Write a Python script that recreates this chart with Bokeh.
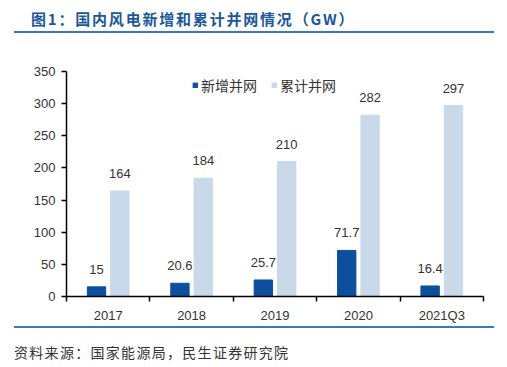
from bokeh.plotting import figure
from bokeh.layouts import column
from bokeh.models import Range1d, FixedTicker, Legend, LegendItem, ColumnDataSource, Div
from bokeh.core.properties import value
from bokeh.embed import file_html
from bokeh.resources import INLINE

categories = ["2017", "2018", "2019", "2020", "2021Q3"]
new_grid = [15, 20.6, 25.7, 71.7, 16.4]
cum_grid = [164, 184, 210, 282, 297]
y_ticks = [0, 50, 100, 150, 200, 250, 300, 350]
title_text = "图1：国内风电新增和累计并网情况（GW）"
source_text = "资料来源：国家能源局，民生证券研究院"
series_names = ["新增并网", "累计并网"]

DARK = "#0C4F9C"
LIGHT = "#C9D9E9"
RULE = "#3A78BC"
NUM_FONT = "Liberation Sans"
CJK_FONT = "Noto Sans CJK SC"

W = 507
HEAD_H = 40
FIG_H = 285
FOOT_H = 40

header = Div(width=W, height=HEAD_H, margin=0, text=(
    f'<div style="position:relative;width:{W}px;height:{HEAD_H}px;margin:0;padding:0;">'
    f'<div style="position:absolute;left:31px;top:8px;white-space:nowrap;font-family:\'{CJK_FONT}\';'
    f'font-size:15px;letter-spacing:1.8px;font-weight:bold;color:#1C5797;line-height:22px;">{title_text}</div>'
    f'<div style="position:absolute;left:14px;top:31px;width:480px;height:2px;background:{RULE};"></div>'
    '</div>'))

p = figure(width=W, height=FIG_H, output_backend="svg", toolbar_location=None,
           x_range=Range1d(0, len(categories)), y_range=Range1d(0, 350),
           min_border_left=66, min_border_right=24, min_border_top=31, min_border_bottom=25)
p.outline_line_color = None
p.xgrid.visible = False
p.ygrid.visible = False
p.background_fill_color = "white"
p.border_fill_color = "white"

centers = [i + 0.5 for i in range(len(categories))]
off = 0.14
bw = 0.22
src = ColumnDataSource(dict(
    x1=[c - off for c in centers], x2=[c + off for c in centers],
    new=new_grid, cum=cum_grid,
    new_lbl=[str(v) for v in new_grid], cum_lbl=[str(v) for v in cum_grid],
))
r1 = p.vbar(x="x1", top="new", width=bw, color=DARK, source=src)
r2 = p.vbar(x="x2", top="cum", width=bw, color=LIGHT, source=src)
for xk, yk, tk in (("x1", "new", "new_lbl"), ("x2", "cum", "cum_lbl")):
    p.text(x=xk, y=yk, text=tk, source=src, text_align="center", text_baseline="bottom",
           y_offset=-13, text_font=value(NUM_FONT), text_font_size="13px", text_color="#333333")

xa = p.xaxis[0]
xa.ticker = FixedTicker(ticks=centers, minor_ticks=list(range(len(categories) + 1)))
xa.major_label_overrides = {c: lab for c, lab in zip(centers, categories)}
xa.major_tick_in = 0
xa.major_tick_out = 0
xa.minor_tick_in = 0
xa.minor_tick_out = 5
xa.minor_tick_line_color = "black"
xa.minor_tick_line_width = 1.5
xa.axis_line_color = "black"
xa.axis_line_width = 1.5
xa.major_label_standoff = 6
xa.major_label_text_font = NUM_FONT
xa.major_label_text_font_size = "13px"
xa.major_label_text_color = "#333333"

ya = p.yaxis[0]
ya.ticker = FixedTicker(ticks=y_ticks, minor_ticks=[])
ya.major_tick_in = 0
ya.major_tick_out = 5
ya.major_tick_line_color = "black"
ya.major_tick_line_width = 1.5
ya.axis_line_color = "black"
ya.axis_line_width = 1.5
ya.major_label_standoff = 6
ya.major_label_text_font = NUM_FONT
ya.major_label_text_font_size = "13px"
ya.major_label_text_color = "#333333"

legend = Legend(items=[LegendItem(label=series_names[0], renderers=[r1]),
                       LegendItem(label=series_names[1], renderers=[r2])],
                orientation="horizontal", location=(126, 201),
                padding=0, margin=0, spacing=14, glyph_width=6, glyph_height=6,
                label_standoff=3, label_text_font=CJK_FONT, label_text_font_size="14px",
                label_text_color="#333333", border_line_color=None, background_fill_alpha=0)
p.add_layout(legend, "center")

footer = Div(width=W, height=FOOT_H, margin=0, text=(
    f'<div style="position:relative;width:{W}px;height:{FOOT_H}px;margin:0;padding:0;">'
    f'<div style="position:absolute;left:14px;top:1px;width:480px;height:2px;background:{RULE};"></div>'
    f'<div style="position:absolute;left:14px;top:17px;white-space:nowrap;font-family:\'{CJK_FONT}\';'
    f'font-size:14px;letter-spacing:1.3px;color:#333333;line-height:20px;">{source_text}</div>'
    '</div>'))

layout = column(header, p, footer, spacing=0, margin=0)
open("out.html", "w").write(file_html(layout, INLINE))
